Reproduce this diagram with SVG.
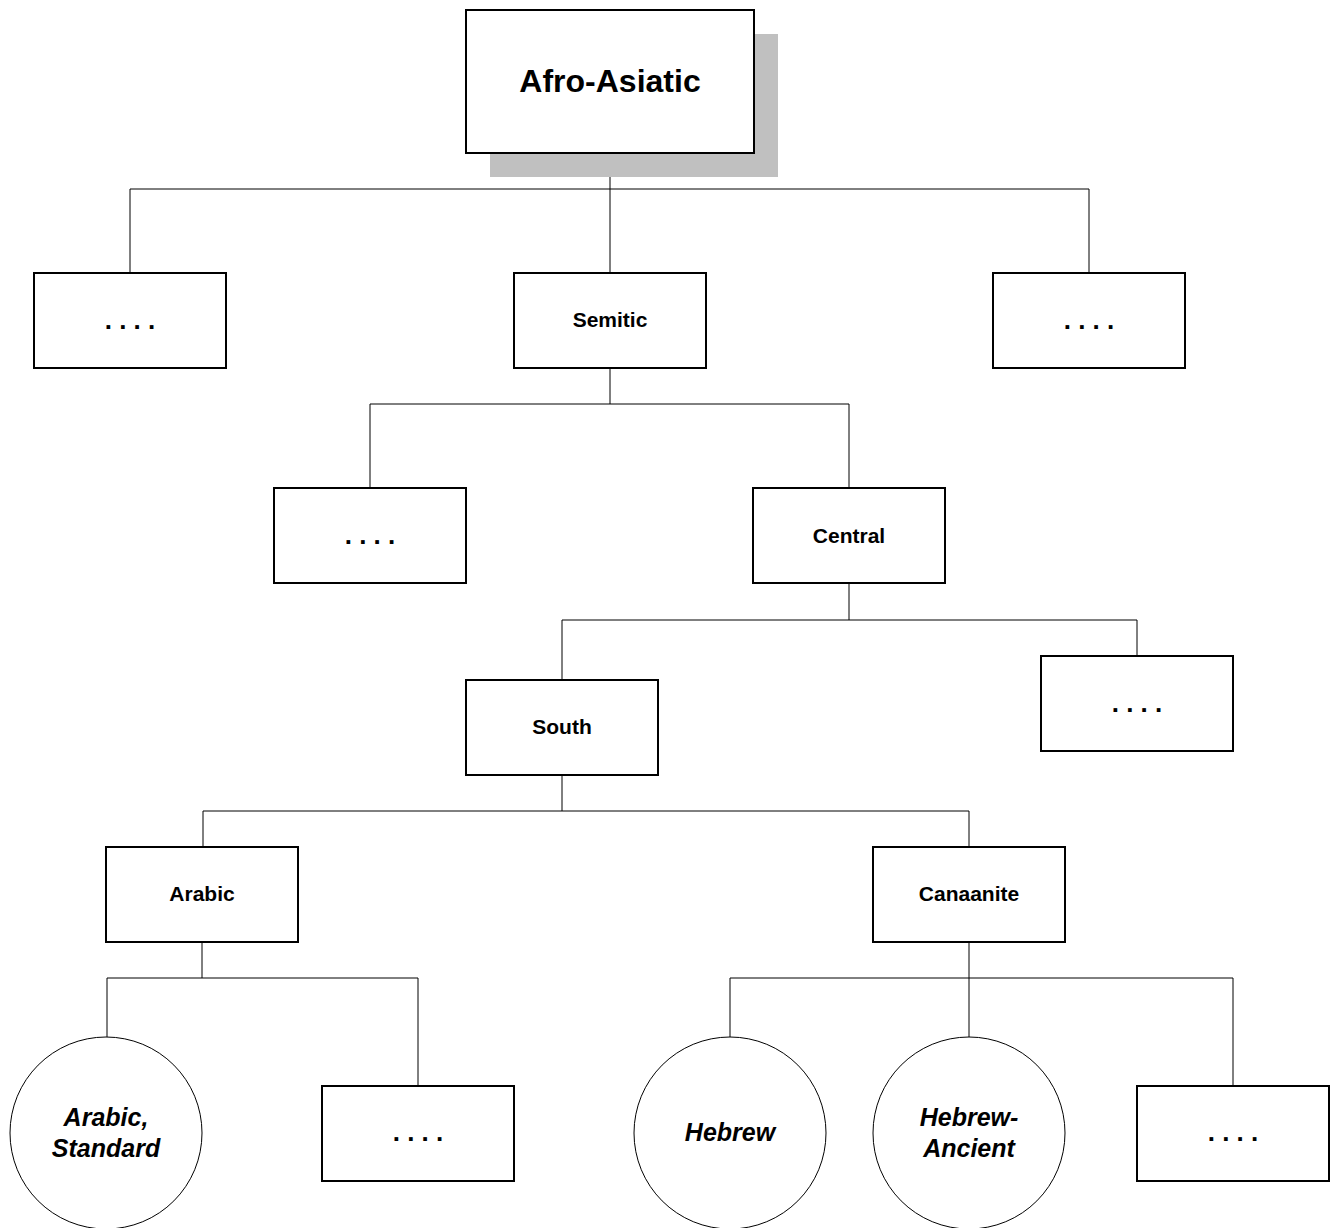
<svg xmlns="http://www.w3.org/2000/svg" width="1331" height="1228" viewBox="0 0 1331 1228">
<style>
.box{fill:#fff;stroke:#000;stroke-width:2}
.circ{fill:#fff;stroke:#000;stroke-width:1}
.t{font-family:"Liberation Sans",Arial,sans-serif;font-weight:bold;font-size:21px;text-anchor:middle;fill:#000}
.dots{font-family:"Liberation Sans",Arial,sans-serif;font-weight:bold;font-size:26px;text-anchor:middle;fill:#000}
.it{font-family:"Liberation Sans",Arial,sans-serif;font-weight:bold;font-style:italic;font-size:25px;text-anchor:middle;fill:#000}
.c{fill:none;stroke:#000;stroke-width:1}
</style>
<rect width="1331" height="1228" fill="#fff"/>
<g id="connectors">
<path class="c" d="M610 153V189M130 189H1089M130 189V273M610 189V273M1089 189V273"/>
<path class="c" d="M610 368V404M370 404H849M370 404V488M849 404V488"/>
<path class="c" d="M849 583V620M562 620H1137M562 620V680M1137 620V656"/>
<path class="c" d="M562 775V811M203 811H969M203 811V847M969 811V847"/>
<path class="c" d="M202 942V978" stroke-width="1.5"/>
<path class="c" d="M107 978H418M107 978V1037M418 978V1086"/>
<path class="c" d="M969 942V978M730 978H1233M730 978V1037M969 978V1037M1233 978V1086"/>
</g>
<g id="afro-asiatic">
<rect x="490" y="34" width="288" height="143" fill="#c0c0c0"/>
<rect class="box" x="466" y="10" width="288" height="143"/>
<text class="t" x="610" y="92" style="font-size:32px">Afro-Asiatic</text>
</g>
<g id="l1-left"><rect class="box" x="34" y="273" width="192" height="95"/><text class="dots" x="130" y="329">. . . .</text></g>
<g id="semitic"><rect class="box" x="514" y="273" width="192" height="95"/><text class="t" x="610" y="327">Semitic</text></g>
<g id="l1-right"><rect class="box" x="993" y="273" width="192" height="95"/><text class="dots" x="1089" y="329">. . . .</text></g>
<g id="l2-left"><rect class="box" x="274" y="488" width="192" height="95"/><text class="dots" x="370" y="544">. . . .</text></g>
<g id="central"><rect class="box" x="753" y="488" width="192" height="95"/><text class="t" x="849" y="543">Central</text></g>
<g id="south"><rect class="box" x="466" y="680" width="192" height="95"/><text class="t" x="562" y="734">South</text></g>
<g id="l3-right"><rect class="box" x="1041" y="656" width="192" height="95"/><text class="dots" x="1137" y="712">. . . .</text></g>
<g id="arabic"><rect class="box" x="106" y="847" width="192" height="95"/><text class="t" x="202" y="901">Arabic</text></g>
<g id="canaanite"><rect class="box" x="873" y="847" width="192" height="95"/><text class="t" x="969" y="901">Canaanite</text></g>
<g id="arabic-standard"><circle class="circ" cx="106" cy="1133" r="96"/><text class="it" x="106" y="1126">Arabic,</text><text class="it" x="106" y="1157">Standard</text></g>
<g id="arabic-other"><rect class="box" x="322" y="1086" width="192" height="95"/><text class="dots" x="418" y="1141">. . . .</text></g>
<g id="hebrew"><circle class="circ" cx="730" cy="1133" r="96"/><text class="it" x="730" y="1141">Hebrew</text></g>
<g id="hebrew-ancient"><circle class="circ" cx="969" cy="1133" r="96"/><text class="it" x="969" y="1126">Hebrew-</text><text class="it" x="969" y="1157">Ancient</text></g>
<g id="canaanite-other"><rect class="box" x="1137" y="1086" width="192" height="95"/><text class="dots" x="1233" y="1141">. . . .</text></g>
</svg>
